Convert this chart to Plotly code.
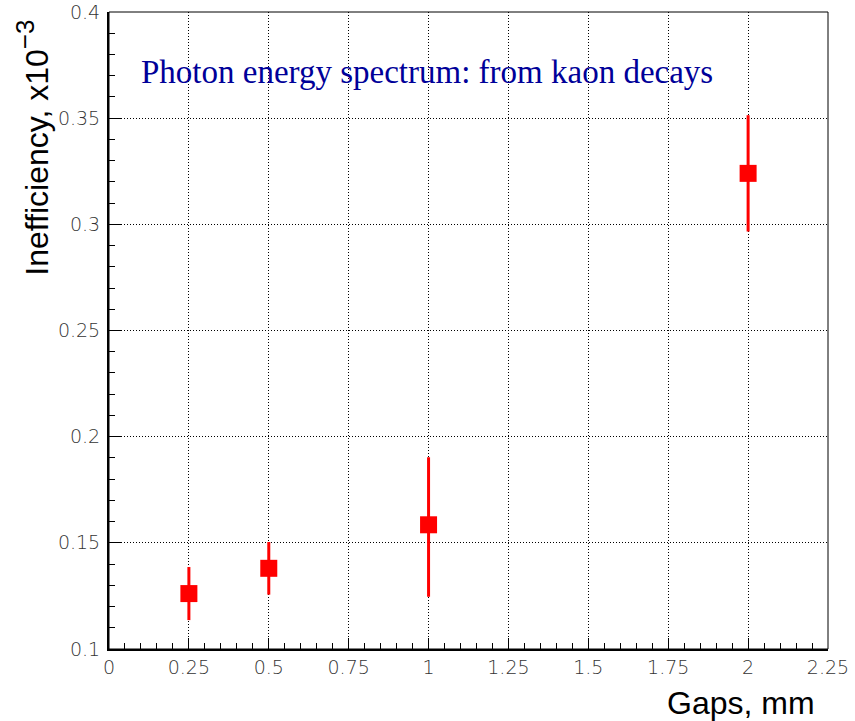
import plotly.graph_objects as go

# Inefficiency vs. gap size (values in units of 1e-3)
gaps_mm = [0.25, 0.5, 1.0, 2.0]
inefficiency = [0.1261, 0.1380, 0.1585, 0.3240]
err_up = [0.0125, 0.0124, 0.0318, 0.0274]
err_down = [0.0125, 0.0124, 0.0339, 0.0274]

x_ticks = [0, 0.25, 0.5, 0.75, 1, 1.25, 1.5, 1.75, 2, 2.25]
x_ticktext = ["0", "0.25", "0.5", "0.75", "1", "1.25", "1.5", "1.75", "2", "2.25"]
y_ticks = [0.1, 0.15, 0.2, 0.25, 0.3, 0.35, 0.4]
y_ticktext = ["0.1", "0.15", "0.2", "0.25", "0.3", "0.35", "0.4"]

title_text = "Photon energy spectrum: from kaon decays"
x_title = "Gaps, mm"
y_title = "Inefficiency, x10<sup><span style='font-size:26px'>\u22123</span></sup>"

RED = "#ff0000"
tick_font = dict(family="DejaVu Sans", size=19, color="#333333", weight=200)

fig = go.Figure()
fig.add_trace(go.Scatter(
    x=gaps_mm,
    y=inefficiency,
    mode="markers",
    marker=dict(symbol="square", size=17, color=RED, line=dict(width=0)),
    error_y=dict(type="data", symmetric=False, array=err_up, arrayminus=err_down,
                 color=RED, thickness=3, width=0),
    showlegend=False,
    hoverinfo="x+y",
))

grid_style = dict(showgrid=True, gridcolor="#000000", gridwidth=1, griddash="1px,2px")

fig.update_xaxes(
    range=[0, 2.25], automargin=False,
    tickvals=x_ticks, ticktext=x_ticktext,
    ticks="inside", ticklen=11, tickwidth=1, tickcolor="#000000",
    minor=dict(dtick=0.05, ticks="inside", ticklen=6, tickwidth=1,
               tickcolor="#000000", showgrid=False),
    showline=True, linecolor="#000000", linewidth=2,
    zeroline=False, tickfont=tick_font, ticklabelstandoff=0,
    **grid_style,
)
fig.update_yaxes(
    range=[0.1, 0.4], automargin=False,
    tickvals=y_ticks, ticktext=y_ticktext,
    ticks="inside", ticklen=12, tickwidth=1, tickcolor="#000000",
    minor=dict(dtick=0.01, ticks="inside", ticklen=6, tickwidth=1,
               tickcolor="#000000", showgrid=False),
    showline=True, linecolor="#000000", linewidth=2,
    zeroline=False, tickfont=tick_font, ticklabelstandoff=3,
    **grid_style,
)

# thin frame on the top and right sides
fig.add_shape(type="rect", xref="paper", yref="paper", x0=0, y0=0, x1=1, y1=1,
              line=dict(color="#000000", width=1), layer="above")

fig.add_annotation(
    text=title_text, xref="paper", yref="paper", x=0.4416, y=0.906,
    xanchor="center", yanchor="middle", showarrow=False,
    font=dict(family="Liberation Serif", size=33, color="#000099"),
)
fig.add_annotation(
    text=x_title, xref="paper", yref="paper", x=(817 - 109) / 719, y=-0.085,
    xanchor="right", yanchor="middle", showarrow=False,
    font=dict(family="Liberation Sans", size=32, color="#000000"),
)
fig.add_annotation(
    text=y_title, xref="paper", yref="paper", x=-0.107, y=0.787,
    xanchor="center", yanchor="middle", showarrow=False, textangle=-90,
    font=dict(family="Liberation Sans", size=32, color="#000000"),
)

fig.update_layout(
    width=855, height=721,
    margin=dict(l=109, r=27, t=12, b=72, pad=0, autoexpand=False),
    paper_bgcolor="#ffffff", plot_bgcolor="#ffffff",
    showlegend=False,
)

fig.write_html("out.html")
